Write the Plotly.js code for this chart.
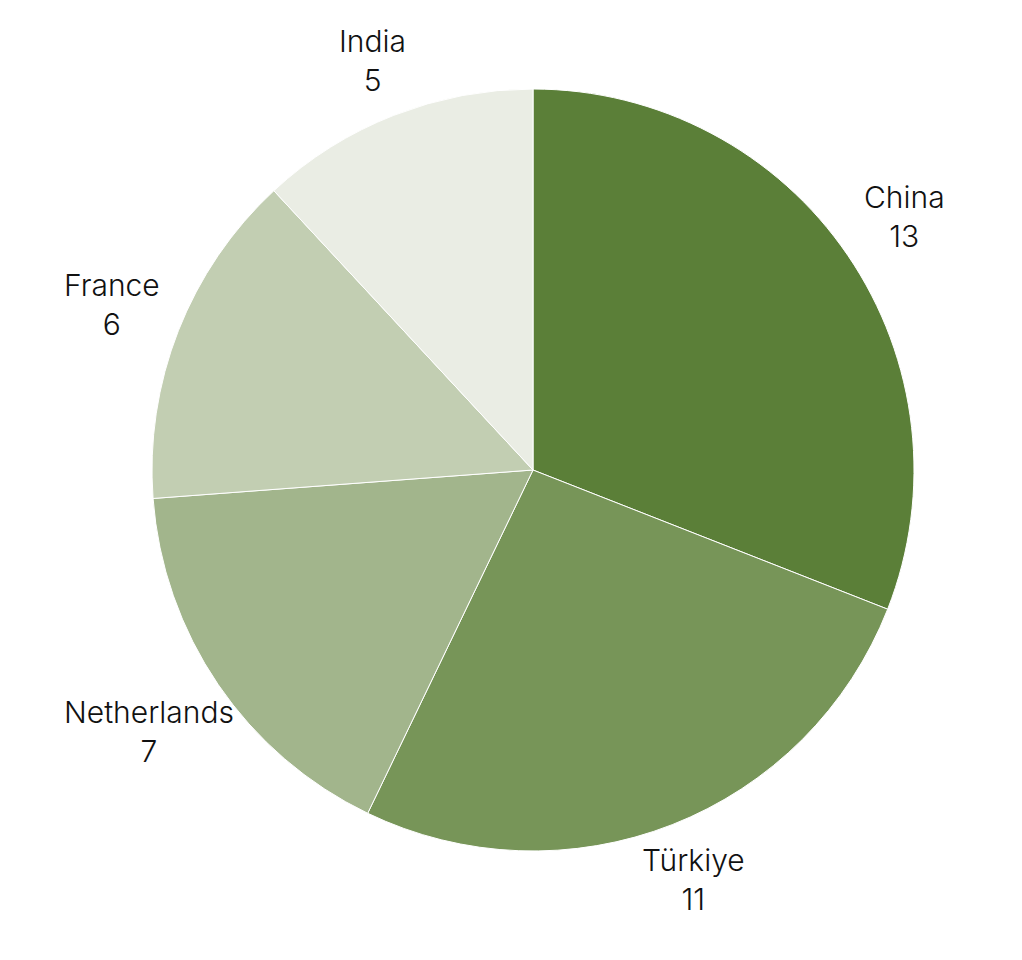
<!DOCTYPE html>
<html>
<head>
<meta charset="utf-8">
<script src="https://cdn.plot.ly/plotly-3.0.1.min.js"></script>
<style>
body { margin: 0; background: #fff; }
#chart { width: 1022px; height: 960px; }
</style>
</head>
<body>
<div id="chart"></div>
<script>
const countries = ["China", "Türkiye", "Netherlands", "France", "India"];
const values = [13, 11, 7, 6, 5];
const sliceColors = ["#5b7f38", "#779558", "#a2b58c", "#c2ceb2", "#eaede4"];

const W = 1022, H = 960;
// pie centre and radius in pixels
const cx = 533, cy = 470, rPie = 381;
const labelGap = 20; // gap between the pie edge and the nearest side of a label
const labelFont = { family: "Inter, sans-serif", size: 30, weight: 300, color: "#111111" };

const slices = {
	type: "pie",
	labels: countries,
	values: values,
	sort: false,
	direction: "clockwise",
	rotation: 0,
	textinfo: "none",
	automargin: false,
	domain: {
		x: [(cx - rPie) / W, (cx + rPie) / W],
		y: [(H - cy - rPie) / H, (H - cy + rPie) / H],
	},
	marker: {
		colors: sliceColors,
		line: { color: "#ffffff", width: 1 },
	},
	hoverinfo: "label+value",
};

// rough text size, so each label box just clears the pie along its slice's middle angle
const measure = document.createElement("canvas").getContext("2d");
measure.font = `300 ${labelFont.size}px Inter, sans-serif`;
const boxH = 2 * 36;

const total = values.reduce((a, b) => a + b, 0);
let acc = 0;
const labels = countries.map((name, i) => {
	const mid = ((acc + values[i] / 2) / total) * 2 * Math.PI;
	acc += values[i];
	const dx = Math.sin(mid);
	const dy = -Math.cos(mid);
	const boxW = Math.max(measure.measureText(name).width, measure.measureText(String(values[i])).width);
	const half = Math.min(
		Math.abs(dx) > 1e-6 ? boxW / 2 / Math.abs(dx) : Infinity,
		Math.abs(dy) > 1e-6 ? boxH / 2 / Math.abs(dy) : Infinity,
	);
	const d = rPie + labelGap + half;
	return {
		xref: "paper",
		yref: "paper",
		x: (cx + d * dx) / W,
		y: 1 - (cy + d * dy) / H,
		xanchor: "center",
		yanchor: "middle",
		align: "center",
		showarrow: false,
		text: name + "<br>" + values[i],
		font: labelFont,
	};
});

const layout = {
	width: W,
	height: H,
	showlegend: false,
	paper_bgcolor: "#ffffff",
	margin: { l: 0, r: 0, t: 0, b: 0 },
	font: { family: "Inter, sans-serif" },
	annotations: labels,
};

Plotly.newPlot("chart", [slices], layout, { displayModeBar: false, staticPlot: true });
</script>
</body>
</html>
